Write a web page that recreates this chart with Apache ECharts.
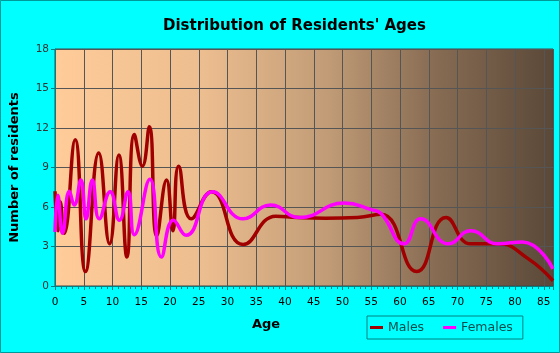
<!DOCTYPE html>
<html>
<head>
<meta charset="utf-8">
<script src="https://cdn.jsdelivr.net/npm/echarts@6/dist/echarts.min.js"></script>
<style>
html, body { margin: 0; padding: 0; background: #00ffff; }
#main { width: 560px; height: 353px; }
</style>
</head>
<body>
<div id="main"></div>
<script>
var title = "Distribution of Residents' Ages";
var yTicks = [0, 3, 6, 9, 12, 15, 18];

// males: ages (curve turning points) and counts
var maleAges = [0, 0.5, 0.9, 1.6, 3.5, 5.3, 7.6, 9.5, 11.1, 12.5, 13.8, 15.2, 16.4, 17.7, 19.4, 20.5, 21.5, 23.7, 27.2, 32.7, 38.4, 42.2, 47, 52.6, 56.7, 62.9, 68, 72.3, 77, 82.2, 86.6];
var maleCounts = [7.2, 4.2, 6.4, 4.0, 11.1, 1.1, 10.1, 3.2, 9.95, 2.2, 11.5, 9.1, 12.1, 3.8, 8.05, 4.2, 9.1, 5.1, 7.15, 3.15, 5.3, 5.2, 5.15, 5.2, 5.45, 1.1, 5.2, 3.2, 3.2, 2.1, 0.4];

// females
var femaleAges = [0, 0.5, 1.3, 2.5, 3.35, 4.5, 5.4, 6.5, 7.7, 9.6, 11.2, 12.7, 13.8, 16.5, 18.5, 20.6, 22.8, 27.4, 32.7, 37.5, 42.5, 50.3, 55, 56.7, 60.7, 63.6, 68.4, 72.3, 77, 81.3, 86.6];
var femaleCounts = [4.1, 6.9, 4.0, 7.2, 6.15, 8.05, 5.1, 8.05, 5.1, 7.16, 5.0, 7.16, 3.9, 8.1, 2.2, 5.0, 3.85, 7.15, 5.1, 6.15, 5.2, 6.3, 5.8, 5.5, 3.2, 5.1, 3.2, 4.2, 3.2, 3.35, 1.3];

function pairs(xs, ys) {
    var out = [];
    for (var i = 0; i < xs.length; i++) {
        out.push([xs[i], ys[i]]);
    }
    return out;
}

var chart = echarts.init(document.getElementById('main'));
var option = {
    backgroundColor: '#00ffff',
    animation: false,
    title: {
        text: title,
        left: 158,
        top: 14,
        textStyle: {
            fontFamily: 'DejaVu Sans',
            fontSize: 15,
            fontWeight: 'bold',
            color: '#000'
        }
    },
    legend: {
        left: 367,
        top: 316,
        width: 155,
        borderColor: '#008080',
        borderWidth: 1,
        padding: [5, 10, 5, 3],
        itemGap: 19,
        itemWidth: 13,
        itemHeight: 3,
        icon: 'rect',
        textStyle: {
            fontFamily: 'DejaVu Sans',
            fontSize: 12.5,
            color: '#0a4d4d'
        },
        data: ['Males', 'Females']
    },
    graphic: [{
        type: 'rect',
        shape: { x: 0.5, y: 0.5, width: 559, height: 352 },
        style: { fill: 'none', stroke: '#009999', lineWidth: 1 },
        silent: true
    }],
    grid: {
        left: 54,
        right: 7,
        top: 49,
        bottom: 67,
        show: true,
        borderColor: '#444',
        borderWidth: 1,
        backgroundColor: new echarts.graphic.LinearGradient(0, 0, 1, 0, [
            { offset: 0, color: '#ffcc99' },
            { offset: 0.3, color: '#ecbd8f' },
            { offset: 0.55, color: '#c09b76' },
            { offset: 0.75, color: '#8a6e55' },
            { offset: 1, color: '#5a4838' }
        ])
    },
    xAxis: {
        type: 'value',
        min: 0,
        max: 86.6,
        interval: 5,
        name: 'Age',
        nameLocation: 'middle',
        nameGap: 32,
        nameTextStyle: {
            fontFamily: 'DejaVu Sans',
            fontSize: 13,
            fontWeight: 'bold',
            color: '#000',
            padding: [0, 76, 0, 0]
        },
        axisLine: { lineStyle: { color: '#008080', width: 1 } },
        axisTick: { show: true, length: 4, lineStyle: { color: '#008080' } },
        minorTick: { show: true, splitNumber: 5, length: 3, lineStyle: { color: '#008080' } },
        axisLabel: {
            showMaxLabel: false,
            margin: 11,
            fontFamily: 'DejaVu Sans',
            fontSize: 10.5,
            color: '#000'
        },
        splitLine: { show: true, lineStyle: { color: '#555', width: 1 } }
    },
    yAxis: {
        type: 'value',
        min: yTicks[0],
        max: yTicks[yTicks.length - 1],
        interval: 3,
        name: 'Number of residents',
        nameLocation: 'middle',
        nameGap: 34,
        nameTextStyle: {
            fontFamily: 'DejaVu Sans',
            fontSize: 13,
            fontWeight: 'bold',
            color: '#000'
        },
        axisLine: { show: true, lineStyle: { color: '#008080', width: 1 } },
        axisTick: { show: true, length: 4, lineStyle: { color: '#008080' } },
        axisLabel: {
            margin: 6,
            fontFamily: 'DejaVu Sans',
            fontSize: 10.5,
            color: '#333'
        },
        splitLine: { show: true, lineStyle: { color: '#555', width: 1 } }
    },
    series: [{
        name: 'Males',
        type: 'line',
        smooth: 0.5,
        showSymbol: false,
        color: '#a00000',
        lineStyle: { width: 3.5, color: '#a00000' },
        data: pairs(maleAges, maleCounts)
    }, {
        name: 'Females',
        type: 'line',
        smooth: 0.5,
        showSymbol: false,
        color: '#ff00ff',
        lineStyle: { width: 3.5, color: '#ff00ff' },
        data: pairs(femaleAges, femaleCounts)
    }]
};
chart.setOption(option);
</script>
</body>
</html>
